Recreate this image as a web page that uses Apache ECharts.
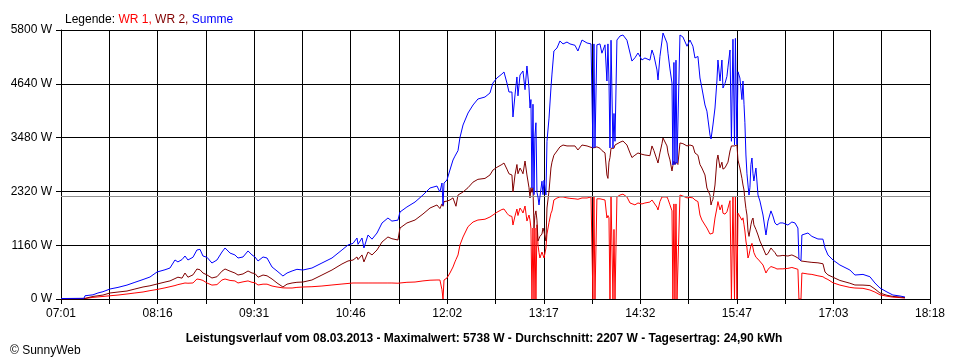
<!DOCTYPE html>
<html>
<head>
<meta charset="utf-8">
<script src="https://cdn.jsdelivr.net/npm/echarts@6/dist/echarts.min.js"></script>
<style>
html,body{margin:0;padding:0;background:#fff;}
#chart{width:960px;height:360px;}
</style>
</head>
<body>
<div id="chart"></div>
<script>
// time in minutes after 07:01
const minutes = [
0,17.9,18.7,24.9,28.8,32.7,38.2,44.4,51.4,57.6,
63.9,69.3,74.8,81.0,84.9,88.8,91.1,94.3,96.6,98.9,
102.8,105.9,108.3,110.6,113.7,117.6,121.5,125.4,127.8,131.7,
135.5,137.9,141.8,145.7,148.8,151.1,153.5,157.4,160.5,164.4,
168.3,172.9,176.1,180.0,183.8,188.5,195.5,203.3,211.1,218.9,
223.6,227.5,230.6,231.4,234.5,236.0,239.2,242.3,246.2,250.1,
254.7,257.8,262.5,264.1,269.5,275.8,282.0,287.5,292.9,295.2,
296.8,297.6,298.4,300.7,303.0,305.4,306.9,307.7,309.3,310.8,
313.2,317.1,321.0,324.8,330.3,334.2,336.5,339.6,343.5,345.1,
347.4,349.0,351.3,352.1,353.7,355.2,356.0,357.6,359.1,359.9,
361.5,363.0,364.6,365.4,366.1,366.9,367.7,368.5,369.2,370.0,
370.8,371.6,372.4,373.1,374.7,375.5,376.3,377.8,378.6,380.2,
381.7,382.5,384.0,386.4,388.7,391.1,394.2,396.5,400.4,402.7,
405.9,409.8,412.9,414.4,415.2,416.0,417.5,419.9,421.4,423.8,
425.3,426.1,426.9,427.7,428.5,430.0,430.8,431.6,433.1,435.5,
437.8,440.9,443.3,444.8,447.1,449.5,452.6,454.9,458.8,460.4,
461.9,464.3,465.1,466.6,468.2,469.0,472.1,472.9,474.4,476.0,
476.7,477.5,478.3,479.1,479.9,480.6,482.2,484.5,487.7,490.0,
492.3,493.9,496.2,497.8,499.3,501.7,503.2,504.0,505.6,506.4,
507.1,507.9,509.5,511.0,511.8,513.4,514.9,515.7,517.3,518.8,
519.6,521.2,522.3,523.5,524.7,525.4,526.6,527.4,528.9,530.5,
531.3,532.1,532.8,533.6,534.4,535.2,536.0,536.7,537.5,538.3,
539.1,539.8,541.4,543.0,544.5,546.9,549.2,550.8,553.1,554.6,
556.2,557.8,560.1,562.4,566.3,569.4,571.8,574.1,574.9,576.5,
577.2,581.9,585.0,589.7,593.6,595.2,597.5,601.4,606.8,614.6,
618.5,624.8,630.2,634.1,638.0,643.5,648.1,653.6,657.5
];
const wr1 = [
5,7,25,35,45,55,70,85,108,130,
151,180,205,240,265,290,310,330,345,340,
345,431,420,400,345,300,310,410,431,400,
390,345,370,390,360,350,302,320,320,280,
259,240,237,237,250,259,265,280,302,323,
335,345,345,345,345,320,345,345,345,345,
345,345,340,345,360,366,390,405,410,410,
200,0,410,453,560,690,800,850,950,1164,
1337,1560,1660,1703,1720,1768,1810,1870,1930,1940,
1850,1800,1780,1595,1790,1940,1800,1962,1900,1854,
2005,1681,1811,1700,1530,0,1530,0,1530,0,
1600,1164,1000,884,1013,950,884,1100,1400,1650,
1850,1900,2135,2178,2200,2200,2180,2170,2160,2150,
2178,2178,2200,0,2200,0,2160,2160,2160,2135,
1746,1800,1750,0,2200,0,1500,0,2200,2242,
2260,2200,2070,2030,2030,2070,2050,2070,2090,2135,
2100,1980,1919,2100,2200,2242,2200,2150,2030,1900,
0,2050,0,2050,0,0,2242,2220,2180,2190,
2180,2135,2100,1811,1703,1595,1530,1488,1400,1358,
1400,1420,1746,1962,2100,1920,2030,1850,1830,1880,
1960,2120,0,2200,0,2200,0,1850,1811,1700,
1750,1600,1466,1250,1100,884,950,1050,1150,1200,
1100,1000,900,860,840,733,560,640,700,690,
670,647,650,650,660,680,660,640,0,0,
560,539,530,500,480,450,420,350,300,250,
237,230,194,150,90,60,40,30,20
];
const wr2 = [
5,8,45,55,70,85,130,150,172,215,
259,285,323,365,390,440,470,450,560,470,
520,647,630,560,520,453,480,600,647,600,
560,517,540,604,560,550,470,517,500,431,
345,259,320,345,360,366,410,517,625,755,
820,840,906,850,950,800,1013,950,1057,1229,
1337,1300,1272,1530,1639,1703,1833,1962,2027,1950,
2050,2000,2100,2110,2135,2180,2200,2000,2242,2280,
2307,2400,2520,2580,2600,2674,2780,2840,2900,2932,
2800,2700,2674,2307,2674,2900,2700,2824,2750,2700,
2975,2674,2400,2178,2400,2300,2400,1530,1800,1900,
1700,1250,1300,1350,1400,1530,1450,1250,1962,2330,
2824,2950,3100,3191,3280,3320,3300,3300,3300,3213,
3320,3300,3270,3250,3260,3260,3280,3250,3200,3150,
2674,2600,2950,3050,3250,3250,3250,3320,3360,3380,
3407,3320,3148,3050,3100,3148,3120,3105,3090,3300,
3200,3000,2932,3150,3350,3471,3300,3150,3000,2760,
2880,2970,2900,2950,2920,2900,3364,3350,3300,3320,
3300,3148,3100,2900,2824,2674,2393,2350,2242,2027,
2100,2150,2458,2997,3105,2830,2950,2800,2830,2850,
2950,3191,3300,3300,3300,3320,3320,2997,2824,2600,
2458,2350,2135,1950,1811,1466,1350,1315,1600,1700,
1746,1600,1500,1380,1250,1100,949,980,1100,1050,
1000,927,930,940,927,950,920,884,860,820,
820,800,790,780,760,582,520,470,400,340,
302,300,290,216,129,80,55,43,30
];
const summe = [
10,15,70,90,130,157,216,250,300,360,
420,474,582,630,668,841,800,850,927,841,
900,1057,1070,927,900,776,841,1013,1100,990,
950,884,906,1036,950,906,820,906,884,690,
604,496,560,604,640,625,668,776,884,1057,
1164,1200,1315,1180,1315,1100,1380,1290,1423,1639,
1746,1680,1700,1876,1984,2091,2242,2393,2436,2307,
2501,2020,2500,2566,2781,2997,3080,3100,3200,3480,
3752,4010,4183,4312,4355,4442,4657,4765,4851,4895,
4657,4463,4463,3924,4400,4787,4380,4830,4800,4916,
4513,5024,4549,4118,4300,2393,4200,2250,3500,3800,
2300,2200,2027,2200,2540,2250,2560,2242,3400,3900,
4549,4850,5347,5412,5563,5500,5540,5500,5470,5347,
5584,5520,5500,3256,5500,3270,5480,5500,5300,5480,
4700,5500,4700,3256,5580,3256,4000,3400,5584,5670,
5692,5580,5304,5130,5200,5304,5153,5196,5150,5369,
5250,4938,4722,5230,5563,5735,5520,5300,4960,4657,
2889,5100,2900,5150,2930,2910,5692,5650,5450,5584,
5450,5196,5230,4765,4549,4183,4050,3880,3536,3450,
3407,3752,4118,4700,5153,4700,5153,4549,4650,4800,
5000,5369,3400,5600,3320,5620,3330,4900,4765,4300,
4700,4200,3800,3105,2700,2458,2242,2400,2900,3040,
2700,2544,2824,2242,2113,1811,1380,1680,1900,1790,
1640,1595,1640,1640,1595,1660,1640,1530,860,830,
1380,1423,1350,1294,1290,1100,949,841,733,625,
517,530,480,345,237,151,86,65,43
];
const xTickLabels = ['07:01','08:16','09:31','10:46','12:02','13:17','14:32','15:47','17:03','18:18'];
const yTicks = [0,1160,2320,3480,4640,5800];
const average = 2207;
const titleText = 'Leistungsverlauf vom 08.03.2013 - Maximalwert: 5738 W - Durchschnitt: 2207 W - Tagesertrag: 24,90 kWh';

const span = 677; // 07:01 .. 18:18
const xInterval = span / 18;
const pair = arr => minutes.map((t, i) => [t, arr[i]]);
const FONT = 'Liberation Sans, Arial, sans-serif';

const chart = echarts.init(document.getElementById('chart'), null, {renderer: 'canvas'});
chart.setOption({
  animation: false,
  backgroundColor: '#ffffff',
  title: [
    {
      text: '{k|Legende: }{r|WR 1, }{d|WR 2, }{b|Summe}',
      left: 60, top: 9,
      textStyle: {
        fontFamily: FONT, fontSize: 12, fontWeight: 'normal',
        rich: {
          k: {color: '#000000', fontFamily: FONT, fontSize: 12},
          r: {color: '#ff0000', fontFamily: FONT, fontSize: 12},
          d: {color: '#800000', fontFamily: FONT, fontSize: 12},
          b: {color: '#0000ff', fontFamily: FONT, fontSize: 12}
        }
      }
    },
    {
      text: titleText,
      left: 479, top: 328, textAlign: 'center',
      textStyle: {fontFamily: FONT, fontSize: 12, fontWeight: 'bold', color: '#000'}
    },
    {
      text: '© SunnyWeb',
      left: 5, top: 340,
      textStyle: {fontFamily: FONT, fontSize: 12, fontWeight: 'normal', color: '#000'}
    }
  ],
  grid: {left: 61, top: 30, width: 869, height: 269, containLabel: false, outerBoundsMode: 'none'},
  xAxis: {
    type: 'value', min: 0, max: span, interval: xInterval,
    axisLine: {show: true, lineStyle: {color: '#000', width: 1}},
    axisTick: {show: true, length: 5, lineStyle: {color: '#000'}},
    axisLabel: {
      show: true, margin: 9, color: '#000', fontFamily: FONT, fontSize: 12,
      showMinLabel: true, showMaxLabel: true,
      formatter: v => {
        const i = Math.round(v / xInterval);
        return (i % 2 === 0) ? (xTickLabels[i / 2] || '') : '';
      }
    },
    splitLine: {show: true, lineStyle: {color: '#000', width: 1}}
  },
  yAxis: {
    type: 'value', min: yTicks[0], max: yTicks[yTicks.length - 1], interval: yTicks[1] - yTicks[0],
    axisLine: {show: true, lineStyle: {color: '#000', width: 1}},
    axisTick: {show: true, length: 5, lineStyle: {color: '#000'}},
    axisLabel: {show: true, margin: 9, color: '#000', fontFamily: FONT, fontSize: 12,
      formatter: v => String(Math.round(v)) + ' W'},
    splitLine: {show: true, lineStyle: {color: '#000', width: 1}}
  },
  series: [
    {
      name: 'WR 1', type: 'line', data: pair(wr1), showSymbol: false, symbol: 'none',
      lineStyle: {color: '#ff0000', width: 1}, itemStyle: {color: '#ff0000'}, z: 3,
      markLine: {
        silent: true, symbol: 'none', label: {show: false},
        lineStyle: {color: '#909090', width: 1, type: 'solid'},
        data: [{yAxis: average}]
      }
    },
    {
      name: 'WR 2', type: 'line', data: pair(wr2), showSymbol: false, symbol: 'none',
      lineStyle: {color: '#800000', width: 1}, itemStyle: {color: '#800000'}, z: 4
    },
    {
      name: 'Summe', type: 'line', data: pair(summe), showSymbol: false, symbol: 'none',
      lineStyle: {color: '#0000ff', width: 1}, itemStyle: {color: '#0000ff'}, z: 5
    }
  ]
});
</script>
</body>
</html>
